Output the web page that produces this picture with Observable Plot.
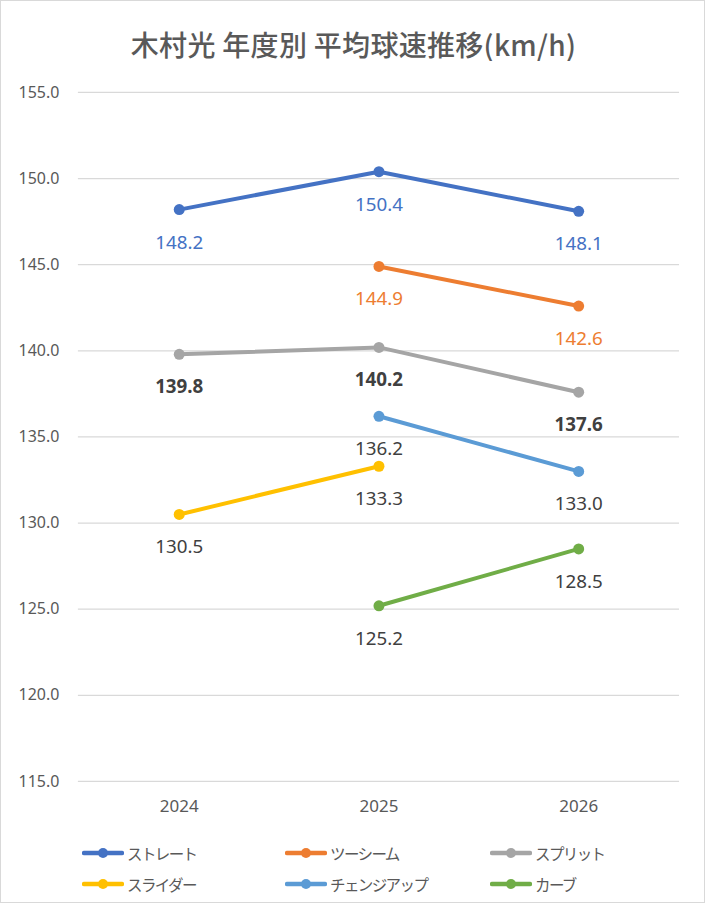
<!DOCTYPE html>
<html>
<head>
<meta charset="utf-8">
<script src="https://cdn.jsdelivr.net/npm/d3@7"></script>
<script src="https://cdn.jsdelivr.net/npm/@observablehq/plot@0.6"></script>
<style>
  body { margin: 0; background: #fff; }
  #wrap { position: relative; width: 703px; height: 901px; border: 1px solid #d9d9d9; background: #fff; overflow: hidden; font-family: "Noto Sans CJK JP", "Noto Sans", sans-serif; }
  #title { position: absolute; top: 23px; left: 0; width: 705px; line-height: 40px; text-align: center; font-size: 28px; font-weight: 500; color: #595959; letter-spacing: 0.3px; }
  #chart { position: absolute; top: 60px; left: -1px; }
  .leg { position: absolute; display: flex; align-items: center; font-size: 15.5px; letter-spacing: -1.6px; color: #595959; }
  .leg svg { margin-right: 3px; }
</style>
</head>
<body>
<div id="wrap">
  <div id="title">木村光 年度別 平均球速推移(km/h)</div>
  <div id="chart"></div>
  <div id="legend"></div>
</div>
<script>
const years = ["2024", "2025", "2026"];
const pitches = ["ストレート", "ツーシーム", "スプリット", "スライダー", "チェンジアップ", "カーブ"];
const straight = [148.2, 150.4, 148.1];
const twoSeam = [null, 144.9, 142.6];
const split = [139.8, 140.2, 137.6];
const slider = [130.5, 133.3, null];
const changeup = [null, 136.2, 133.0];
const curve = [null, 125.2, 128.5];
const yTicks = [115, 120, 125, 130, 135, 140, 145, 150, 155];

const seriesValues = [straight, twoSeam, split, slider, changeup, curve];
const colors = ["#4472C4", "#ED7D31", "#A5A5A5", "#FFC000", "#5B9BD5", "#70AD47"];
const labelColors = ["#4472C4", "#ED7D31", "#404040", "#404040", "#404040", "#404040"];
const labelWeights = ["normal", "normal", "bold", "normal", "normal", "normal"];

const data = [];
pitches.forEach((p, i) => {
  seriesValues[i].forEach((v, j) => {
    if (v != null) data.push({pitch: p, year: years[j], value: v, idx: i});
  });
});

const numFont = '"Noto Sans", "Open Sans", sans-serif';

const plot = Plot.plot({
  width: 705,
  height: 770,
  marginTop: 31,
  marginBottom: 49,
  marginLeft: 78,
  marginRight: 25,
  style: {fontFamily: numFont, fontSize: "17px", color: "#595959", background: "#fff"},
  x: {type: "point", domain: years, padding: 0.5, label: null},
  y: {domain: [115, 155], label: null},
  color: {domain: pitches, range: colors},
  marks: [
    Plot.gridY(yTicks, {stroke: "#d9d9d9", strokeOpacity: 1, strokeWidth: 1.3}),
    Plot.axisY(yTicks, {tickFormat: d3.format(".1f"), tickSize: 0, tickPadding: 19, fontSize: 16, fill: "#595959"}),
    Plot.axisX(years, {tickSize: 0, tickPadding: 18, fontSize: 17, fill: "#595959"}),
    Plot.line(data, {x: "year", y: "value", z: "pitch", stroke: "pitch", strokeWidth: 4, strokeLinecap: "round"}),
    Plot.dot(data, {x: "year", y: "value", fill: "pitch", r: 5.5, stroke: "none"}),
    ...pitches.map((p, i) => Plot.text(data.filter(d => d.idx === i), {
      x: "year", y: "value", text: d => d.value.toFixed(1), dy: 33,
      fill: labelColors[i], fontWeight: labelWeights[i], fontSize: 18.8
    }))
  ]
});
document.getElementById("chart").appendChild(plot);

const legend = document.getElementById("legend");
const cols = [82, 285, 490];
const rows = [852, 883];
pitches.forEach((p, i) => {
  const el = document.createElement("div");
  el.className = "leg";
  el.style.left = (cols[i % 3] - 1) + "px";
  el.style.top = (rows[Math.floor(i / 3)] - 12) + "px";
  el.style.height = "24px";
  el.innerHTML = `<svg width="42" height="12"><line x1="2" y1="6" x2="40" y2="6" stroke="${colors[i]}" stroke-width="4.5" stroke-linecap="round"/><circle cx="21" cy="6" r="5" fill="${colors[i]}"/></svg><span>${p}</span>`;
  legend.appendChild(el);
});
</script>
</body>
</html>
